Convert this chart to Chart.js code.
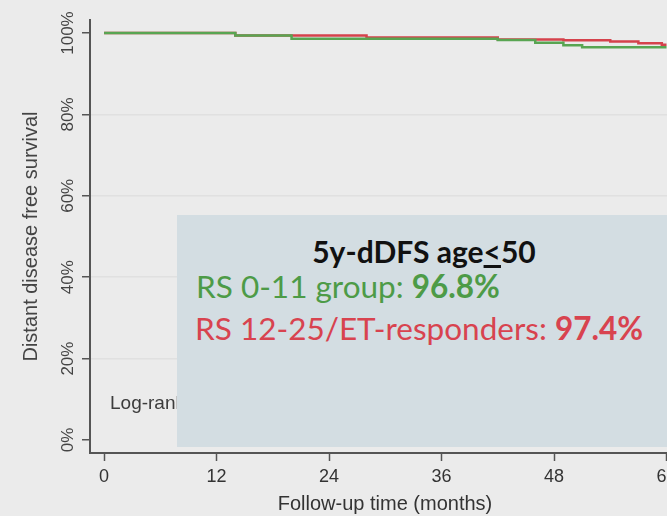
<!DOCTYPE html>
<html>
<head>
<meta charset="utf-8">
<script src="https://cdn.jsdelivr.net/npm/chart.js@4/dist/chart.umd.min.js"></script>
<style>
  html, body { margin: 0; padding: 0; background: #ebebeb; overflow: hidden; }
  #wrap { position: relative; width: 667px; height: 516px; overflow: hidden; background: #ebebeb; }
  #km { position: absolute; left: 0; top: 0; }
  .txt { position: absolute; white-space: nowrap; line-height: 1; }
  #logrank { left: 110px; top: 392px; font: 19px "Liberation Sans", Arial, sans-serif; color: #3c3c3c; }
  #caixa { position: absolute; left: 177px; top: 215px; width: 520px; height: 232px; background: #d3dde2; }
  .box { font-family: Lato, "Open Sans", sans-serif; font-size: 31.5px; }
  #titulo { left: 424px; top: 236px; transform: translateX(-50%); font-weight: 700; font-size: 30px; color: #111; }
  #verde { left: 196px; top: 271px; color: #4d9b47; }
  #vermelho { left: 195px; top: 313px; color: #d8434f; }
  b { font-weight: 700; }
</style>
</head>
<body>
<div id="wrap">
  <canvas id="km" width="690" height="516"></canvas>
  <div id="logrank" class="txt">Log-rank</div>
  <div id="caixa"></div>
  <div id="titulo" class="txt box">5y-dDFS age<u>&lt;</u>50</div>
  <div id="verde" class="txt box">RS 0-11 group: <b>96.8%</b></div>
  <div id="vermelho" class="txt box">RS 12-25/ET-responders: <b>97.4%</b></div>
</div>
<script>
/* Kaplan-Meier curve, distant disease free survival, age <= 50
   values (step times in months, survival in %) */

const greenMonths = [0, 14, 20, 42, 46, 49, 51, 60];
const greenSurv   = [100, 99.4, 98.6, 98.3, 97.6, 97.0, 96.5, 96.5];

const redMonths = [0, 14, 28, 42, 49, 54, 57, 59.5, 60];
const redSurv   = [100, 99.4, 98.9, 98.4, 98.2, 97.9, 97.5, 97.1, 97.1];

const xTicks = [0, 12, 24, 36, 48, 60];
const yTicks = [0, 20, 40, 60, 80, 100];
const yTickText = ["0%", "20%", "40%", "60%", "80%", "100%"];

const AXIS = "#555";
Chart.defaults.font.family = '"Liberation Sans", Arial, sans-serif';

function pares(xs, ys) {
  return xs.map((x, i) => ({ x, y: ys[i] }));
}

// Stata-style y tick labels, turned 90 degrees, placed on the y scale
const yTickLabels = {
  id: "yTickLabels",
  afterDraw(chart) {
    const { ctx, scales: { y } } = chart;
    ctx.save();
    ctx.font = '17px "Liberation Sans", Arial, sans-serif';
    ctx.fillStyle = "#444";
    ctx.textAlign = "center";
    ctx.textBaseline = "middle";
    yTicks.forEach((v, i) => {
      ctx.save();
      ctx.translate(y.left + 68, y.getPixelForValue(v));
      ctx.rotate(-Math.PI / 2);
      ctx.fillText(yTickText[i], 0, 0);
      ctx.restore();
    });
    ctx.restore();
  },
};

new Chart(document.getElementById("km").getContext("2d"), {
  type: "line",
  data: {
    datasets: [
      {
        label: "RS 0-11 group",
        data: pares(greenMonths, greenSurv),
        borderColor: "#58a552",
        borderWidth: 2.5,
        stepped: true,
        pointRadius: 0,
        fill: false,
      },
      {
        label: "RS 12-25/ET-responders",
        data: pares(redMonths, redSurv),
        borderColor: "#d5424c",
        borderWidth: 2.5,
        stepped: true,
        pointRadius: 0,
        fill: false,
      },
    ],
  },
  options: {
    responsive: false,
    animation: false,
    events: [],
    layout: { padding: { top: 20, right: 10, left: 0, bottom: 0 } },
    scales: {
      x: {
        type: "linear",
        min: -1.5,
        max: 61.44,
        afterBuildTicks: s => { s.ticks = xTicks.map(v => ({ value: v })); },
        afterFit: s => { s.height = 63; },
        grid: { drawOnChartArea: false, tickLength: 8, tickColor: AXIS, tickWidth: 1.5 },
        border: { color: AXIS, width: 2 },
        ticks: { color: "#333", font: { size: 18 }, padding: 5, maxRotation: 0 },
        title: {
          display: true,
          text: "Follow-up time (months)",
          color: "#333",
          font: { size: 20 },
          padding: { top: 0, bottom: 0 },
        },
      },
      y: {
        min: -3.2,
        max: 103.2,
        afterBuildTicks: s => { s.ticks = yTicks.map(v => ({ value: v })); },
        afterFit: s => { s.width = 90; },
        grid: {
          color: c => (c.tick && (c.tick.value === 0 || c.tick.value === 100)) ? "rgba(0,0,0,0)" : "#e0e0e0",
          lineWidth: 1.5,
          tickLength: 8,
          tickColor: AXIS,
          tickWidth: 1.5,
        },
        border: { color: AXIS, width: 2 },
        ticks: { display: false },
        title: {
          display: true,
          text: "Distant disease free survival",
          color: "#444",
          font: { size: 20 },
          padding: { top: 19, bottom: 0 },
        },
      },
    },
    plugins: { legend: { display: false }, tooltip: { enabled: false } },
  },
  plugins: [yTickLabels],
});
</script>
</body>
</html>
